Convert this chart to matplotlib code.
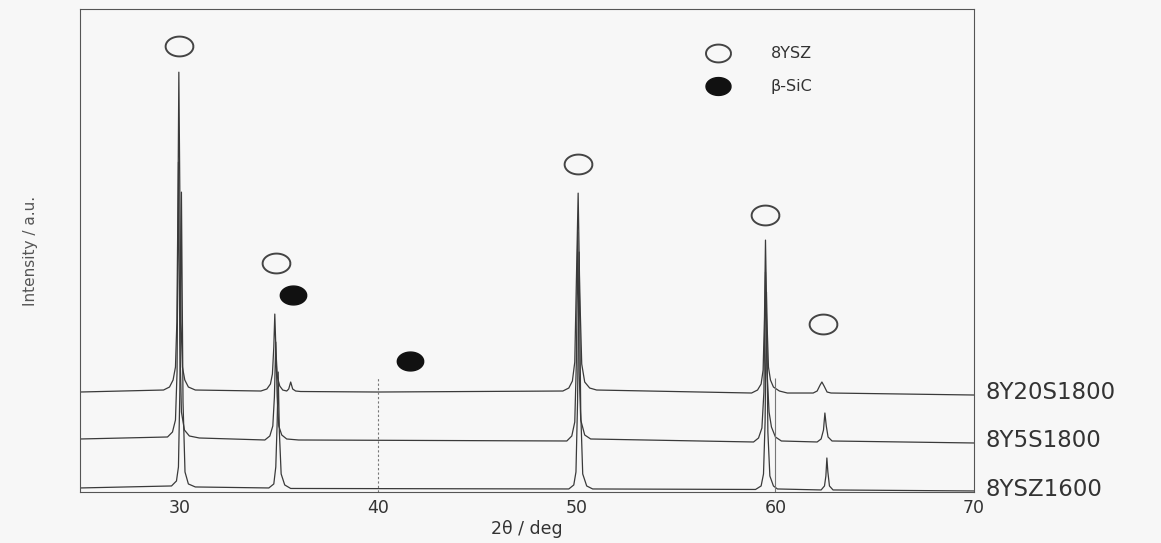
"""
XRD patterns of 8YSZ / SiC composites, stacked traces
"""

import numpy as np
import matplotlib
matplotlib.use('Agg')
import matplotlib.pyplot as plt

# 2theta (deg) and intensity (a.u., offset already included)
x_20S = [25, 29.2, 29.5, 29.68, 29.8, 29.87, 29.93, 29.97, 30.02, 30.08, 30.15, 30.27, 30.45, 30.8,
         34.1, 34.4, 34.58, 34.68, 34.75, 34.8, 34.86, 34.93, 35.05, 35.2, 35.4, 35.5, 35.6, 35.7, 35.85, 36.1,
         40, 49.3, 49.6, 49.78, 49.9, 49.98, 50.07, 50.15, 50.25, 50.4, 50.65, 51.0,
         58.8, 59.1, 59.28, 59.38, 59.45, 59.5, 59.56, 59.65, 59.75, 59.9, 60.2, 60.6,
         61.9, 62.1, 62.25, 62.34, 62.45, 62.6, 62.8, 70]
y_20S = [100, 102, 105, 112, 125, 170, 300, 420, 300, 170, 125, 112, 105, 102,
         101, 103, 108, 118, 145, 178, 140, 115, 106, 102, 101, 103, 110, 103, 101, 100.5,
         100, 101, 104, 111, 130, 210, 299, 200, 128, 110, 104, 102,
         99, 102, 108, 122, 175, 252, 180, 125, 112, 105, 101, 99,
         99, 101, 107, 110, 106, 100, 99, 97]

x_5S = [25, 29.4, 29.65, 29.8, 29.88, 29.95, 30.02, 30.1, 30.25, 30.5, 31,
        34.3, 34.55, 34.7, 34.78, 34.85, 34.92, 35.0, 35.15, 35.4, 36,
        49.5, 49.75, 49.9, 49.98, 50.05, 50.12, 50.2, 50.4, 50.7,
        58.9, 59.15, 59.32, 59.42, 59.5, 59.58, 59.68, 59.8, 60.0, 60.3,
        62.1, 62.3, 62.42, 62.49, 62.56, 62.65, 62.85, 70]
y_5S = [53, 55, 60, 72, 120, 330, 150, 80, 62, 56, 54,
        52, 56, 66, 95, 150, 95, 66, 57, 53, 52,
        51, 56, 70, 130, 260, 120, 72, 57, 53,
        50, 54, 64, 100, 220, 120, 80, 65, 55, 51,
        50, 53, 62, 79, 66, 55, 51, 49]

x_YSZ = [25, 29.6, 29.85, 29.95, 30.02, 30.1, 30.18, 30.28, 30.45, 30.8,
         34.5, 34.75, 34.85, 34.92, 34.97, 35.03, 35.12, 35.3, 35.6,
         49.6, 49.85, 49.96, 50.04, 50.12, 50.2, 50.3, 50.5, 50.8,
         59.0, 59.28, 59.4, 59.48, 59.55, 59.62, 59.72, 59.9, 60.1,
         62.3, 62.47, 62.54, 62.59, 62.64, 62.72, 62.9, 70]
y_YSZ = [4, 6, 11, 25, 100, 300, 90, 20, 8, 5,
         4, 8, 25, 70, 120, 60, 18, 7, 3.5,
         3, 7, 20, 90, 240, 80, 18, 6, 3,
         2.5, 6, 18, 70, 200, 60, 16, 6, 3,
         2, 6, 16, 34, 20, 6, 2, 1]

trace_names = ['8Y20S1800', '8Y5S1800', '8YSZ1600']
trace_offsets = [100, 51, 2]

# phase markers
ysz_x = [29.97, 34.85, 50.05, 59.5, 62.4]
ysz_y = [446, 229, 328, 277, 168]
sic_x = [35.7, 41.63]
sic_y = [197, 131]

# ellipse shaped marker (reference circles are drawn squashed)
t = np.linspace(0, 2 * np.pi, 60)
ell = list(zip(1.4 * np.cos(t), np.sin(t)))

fig = plt.figure(figsize=(11.61, 5.43), dpi=100, facecolor='#f7f7f7')
ax = fig.add_axes([0.069, 0.094, 0.770, 0.889], facecolor='#f7f7f7')

lc = '#3a3a3a'
ax.plot(x_20S, y_20S, color=lc, lw=0.9)
ax.plot(x_5S, y_5S, color=lc, lw=0.9)
ax.plot(x_YSZ, y_YSZ, color=lc, lw=0.9)

ax.vlines(40, 0, 114, color='#777777', lw=0.8, linestyles=(0, (2, 2)))
ax.vlines(60, 0, 114, color='#777777', lw=0.8)

ax.plot(ysz_x, ysz_y, marker=ell, ls='none', ms=20, mfc='none', mec='#444444', mew=1.4)
ax.plot(sic_x, sic_y, marker=ell, ls='none', ms=19, mfc='#111111', mec='#111111')

# legend drawn by hand, like the original
ax.plot([57.1], [439], marker=ell, ls='none', ms=18, mfc='none', mec='#444444', mew=1.4)
ax.plot([57.1], [406], marker=ell, ls='none', ms=18, mfc='#111111', mec='#111111')
ax.text(59.77, 439, '8YSZ', fontsize=11.5, va='center', color='#333333')
ax.text(59.77, 406, 'β-SiC', fontsize=11.5, va='center', color='#333333')

for name, off in zip(trace_names, trace_offsets):
    ax.text(70.6, off, name, fontsize=16.5, va='center', ha='left',
            color='#333333', clip_on=False)

ax.set_xlim(25, 70)
ax.set_ylim(0, 483)
ax.set_xticks([30, 40, 50, 60, 70])
ax.set_yticks([])
ax.tick_params(axis='x', length=0, pad=5, labelsize=12.5, labelcolor='#333333')
for s in ax.spines.values():
    s.set_color('#555555')
    s.set_linewidth(0.8)

ax.set_xlabel('2θ / deg', fontsize=12.5, color='#333333', labelpad=2)
ax.set_ylabel('Intensity / a.u.', fontsize=11, color='#555555', labelpad=30)

fig.savefig('out.png', dpi=100, facecolor=fig.get_facecolor())
